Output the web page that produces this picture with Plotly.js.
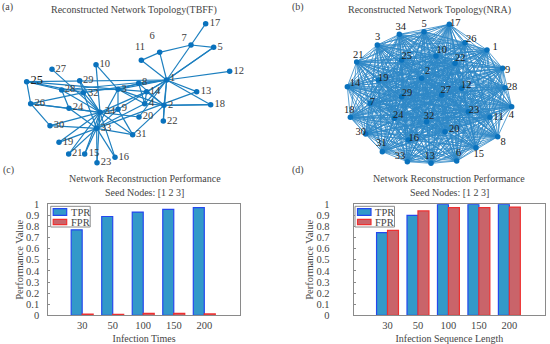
<!DOCTYPE html>
<html><head><meta charset="utf-8">
<script src="https://cdn.plot.ly/plotly-3.0.1.min.js"></script>
<style>html,body{margin:0;padding:0;background:#fff}#p{width:550px;height:344px}</style>
</head><body><div id="p"></div>
<script>
const nodeIds = Array.from({length:34},(_,i)=>String(i+1));
const tbffX = [500,492,354,434,641,479,573,416,354,288,424,689,590,440,254,345,617,632,177,417,206,490,291,207,80,92,156,185,239,150,398,250,290,300];
const tbffY = [240,316,268,311,142,157,135,250,328,194,181,214,275,275,462,472,71,314,427,351,462,363,488,325,245,311,208,270,242,377,404,278,385,337];
const tbffLabelX = [518,512,372,455,660,456,552,434,373,314,420,716,618,465,282,371,645,659,204,444,232,517,318,234,110,119,182,210,265,177,424,280,318,330];
const tbffLabelY = [236,316,267,310,142,108,115,247,324,192,143,213,274,274,460,471,70,313,426,349,461,363,487,323,244,310,207,268,240,376,403,280,385,335];
const tbffFrom = [1,1,1,1,1,1,1,1,1,1,1,1,1,1,1,1, 2,2,2,2,2,2,2, 3,3,3,3,3,3,3, 4,4,4, 5,5, 6,6, 7, 9,9,9, 10, 14, 15,15,16,16,19,19,20,21,21,23,23,24,24,24,24,25,25,25,26,26,26,27,28,29,29,30,30,31,31,32,32,33,13,18,25,25,28];
const tbffTo   = [2,3,4,5,6,7,8,9,11,12,13,14,18,20,22,32, 3,4,8,14,18,22,31, 4,8,9,10,14,28,33, 8,14,33, 7,1, 7,11, 17, 31,33,34, 34, 34, 33,34,33,34,33,34,34,33,34,33,34,26,28,33,34,26,28,32,32,34,30,34,34,32,34,33,34,33,34,33,34,34,33,2,3,1,1];

const nraX = [636,440,307,710,447,545,285,668,683,483,645,560,468,217,603,400,523,226,310,510,245,540,580,358,380,570,500,690,380,272,322,455,397,373];
const nraY = [150,235,135,320,95,483,310,410,205,168,352,265,490,260,443,420,73,352,240,395,186,190,335,355,180,128,285,263,290,402,455,365,485,103];
const nraLabelX = [660,458,308,709,447,551,292,684,698,500,671,574,464,240,611,416,541,223,325,538,250,556,597,370,395,589,512,711,396,257,319,462,375,377];
const nraLabelY = [143,215,113,345,72,460,307,426,210,150,351,257,470,251,463,416,70,332,235,387,165,176,331,347,168,119,272,263,280,398,430,349,468,83];

const categories = ['30','50','100','150','200'];
const tprTimes = [0.77,0.89,0.93,0.955,0.97];
const fprTimes = [0.01,0.008,0.018,0.018,0.012];
const tprLength = [0.745,0.90,1,1,1];
const fprLength = [0.765,0.94,0.97,0.97,0.975];
const yTicks = [0,0.1,0.2,0.3,0.4,0.5,0.6,0.7,0.8,0.9,1];
const yTickText = ['0','0.1','0.2','0.3','0.4','0.5','0.6','0.7','0.8','0.9','1'];

const W=550,H=344, serif='"Liberation Serif","Times New Roman",serif', ink='#454545', nodeBlue='#0a72bd', edgeBlue='#1c7fbf';
const FS=10;

function edgePath(xs,ys,from,to){
  const ex=[],ey=[];
  from.forEach((a,i)=>{const b=to[i];ex.push(xs[a-1],xs[b-1],null);ey.push(ys[a-1],ys[b-1],null);});
  return {ex,ey};
}
const tb = edgePath(tbffX,tbffY,tbffFrom,tbffTo);
const allFrom=[],allTo=[];
for(let i=1;i<=34;i++)for(let j=i+1;j<=34;j++){allFrom.push(i);allTo.push(j);}
const nr = edgePath(nraX,nraY,allFrom,allTo);

const lbl25=nodeIds.map(n=>n==='25'?12.5:10.5);
const traces=[
 {type:'scatter',mode:'lines',x:tb.ex,y:tb.ey,xaxis:'x',yaxis:'y',line:{color:edgeBlue,width:1.2},showlegend:false,hoverinfo:'skip'},
 {type:'scatter',mode:'markers',x:tbffX,y:tbffY,xaxis:'x',yaxis:'y',marker:{color:nodeBlue,size:5.5},showlegend:false},
 {type:'scatter',mode:'text',x:tbffLabelX,y:tbffLabelY,text:nodeIds,xaxis:'x',yaxis:'y',textposition:'middle center',textfont:{family:serif,size:lbl25,color:nodeIds.map(n=>n==='25'?'#222':'#3c3c3c')},showlegend:false},
 {type:'scatter',mode:'lines',x:nr.ex,y:nr.ey,xaxis:'x2',yaxis:'y2',line:{color:'#2f88c6',width:0.8},showlegend:false,hoverinfo:'skip'},
 {type:'scatter',mode:'markers',x:nraX,y:nraY,xaxis:'x2',yaxis:'y2',marker:{color:nodeBlue,size:5.5},showlegend:false},
 {type:'scatter',mode:'text',x:nraLabelX,y:nraLabelY,text:nodeIds,xaxis:'x2',yaxis:'y2',textposition:'middle center',textfont:{family:serif,size:10.5,color:'#222222'},showlegend:false},
];
const tprFill='#3399c9',tprEdge='#2448ee',fprFill='#c9646a',fprEdge='#ee3030';
const tprStyle={color:tprFill,line:{color:tprEdge,width:1.2}};
const fprStyle={color:fprFill,line:{color:fprEdge,width:1.2}};
traces.push(
 {type:'bar',name:'TPR',x:categories,y:tprTimes,xaxis:'x3',yaxis:'y3',marker:tprStyle,showlegend:false},
 {type:'bar',name:'FPR',x:categories,y:fprTimes,xaxis:'x3',yaxis:'y3',marker:fprStyle,showlegend:false},
 {type:'bar',name:'TPR',x:categories,y:tprLength,xaxis:'x4',yaxis:'y4',marker:tprStyle,showlegend:false},
 {type:'bar',name:'FPR',x:categories,y:fprLength,xaxis:'x4',yaxis:'y4',marker:fprStyle,showlegend:false}
);
const px=v=>v/W, py=v=>1-v/H;
const hidden={visible:false,fixedrange:true};
function barX(l,r,anchor,title){return {domain:[px(l),px(r)],anchor,type:'category',categoryorder:'array',categoryarray:categories,range:[-1.11,5.17],
  showline:true,mirror:true,linecolor:'#8a8a8a',linewidth:1,ticks:'',tickfont:{family:serif,size:10.5,color:ink},ticklabelstandoff:0,
  title:{text:title,font:{family:serif,size:FS,color:ink},standoff:5}};}
function barY(t,b,anchor,standoff,tstand){return {domain:[py(b),py(t)],anchor,range:[0,1],tickmode:'array',tickvals:yTicks,ticktext:yTickText,
  showline:true,mirror:true,linecolor:'#8a8a8a',linewidth:1,ticks:'inside',ticklen:2,tickcolor:'#8a8a8a',showgrid:false,zeroline:false,ticklabelstandoff:standoff,
  tickfont:{family:serif,size:10.5,color:ink},title:{text:'Performance Value',font:{family:serif,size:10.5,color:ink},standoff:tstand}};}
const ann=(text,x,y,anchor,size)=>({text,x:px(x),y:py(y),xref:'paper',yref:'paper',showarrow:false,xanchor:anchor||'center',yanchor:'middle',font:{family:serif,size:size||FS,color:ink}});
const rect=(x0,y0,x1,y1,fill,edge,w)=>({type:'rect',xref:'paper',yref:'paper',x0:px(x0),x1:px(x1),y0:py(y0),y1:py(y1),fillcolor:fill,line:{color:edge,width:w},layer:'above'});
// legend key: box, two swatches, two labels
function legendShapes(l){return [rect(l,206.3,l+39.5,227,'#fff','#8a8a8a',1),rect(l+2.5,208.7,l+16,215.3,tprFill,tprEdge,1.2),rect(l+2.5,219.3,l+16,224.7,fprFill,fprEdge,1.2)];}
function legendText(l){return [ann('TPR',l+18,212,'left',10.5),ann('FPR',l+18,222,'left',10.5)];}
const layout={
 width:W,height:H,margin:{l:0,r:0,t:0,b:0},paper_bgcolor:'#fff',plot_bgcolor:'#fff',barmode:'group',bargap:0.28,bargroupgap:0,
 font:{family:serif},showlegend:false,
 xaxis:{domain:[0,0.5],range:[0,825],anchor:'y',...hidden},
 yaxis:{domain:[0.5,1],range:[516,0],anchor:'x',...hidden},
 xaxis2:{domain:[0.5,1],range:[0,825],anchor:'y2',...hidden},
 yaxis2:{domain:[0.5,1],range:[516,0],anchor:'x2',...hidden},
 xaxis3:barX(48.3,240,'y3','Infection Times'),
 yaxis3:barY(204.3,315.3,'x3',6,0),
 xaxis4:barX(353.7,545,'y4','Infection Sequence Length'),
 yaxis4:barY(204.3,315.3,'x4',21,0),
 shapes:[...legendShapes(50.7),...legendShapes(355)],
 annotations:[
  ann('Reconstructed Network Topology(TBFF)',134,10),
  ann('Reconstructed Network Topology(NRA)',429,10),
  ann('Network Reconstruction Performance',145,178),
  ann('Seed Nodes: [1 2 3]',144,192),
  ann('Network Reconstruction Performance',449,178),
  ann('Seed Nodes: [1 2 3]',449,192),
  ann('(a)',7.5,7),ann('(b)',298,7),ann('(c)',8,170),ann('(d)',298,170),
  ...legendText(50.7),...legendText(355)
 ]
};
Plotly.newPlot('p',traces,layout,{displayModeBar:false,staticPlot:true});
</script></body></html>
